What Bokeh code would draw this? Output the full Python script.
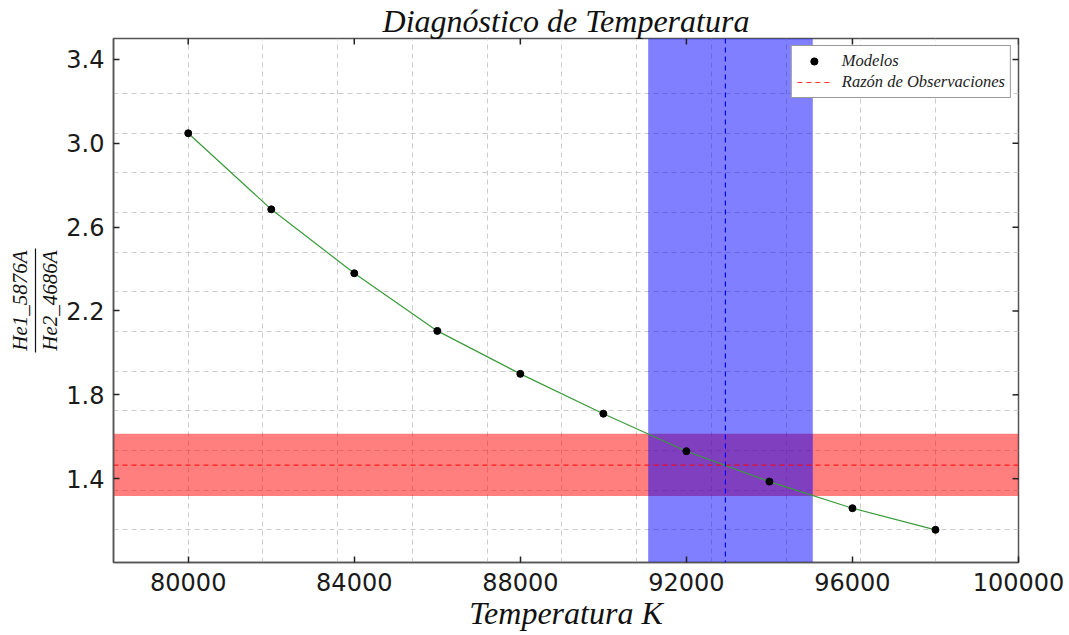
import numpy as np
from bokeh.plotting import figure
from bokeh.models import (Range1d, FixedTicker, LinearAxis, Span, Legend, LegendItem,
                          PrintfTickFormatter)
from bokeh.embed import file_html
from bokeh.resources import INLINE

# ---- data ----
temperatures = [80000, 82000, 84000, 86000, 88000, 90000, 92000, 94000, 96000, 98000]
ratios = [3.048, 2.685, 2.380, 2.105, 1.900, 1.710, 1.531, 1.386, 1.259, 1.156]
obs_ratio = 1.465
obs_ratio_low = 1.317
obs_ratio_high = 1.614
temp_estimate = 92940
temp_low = 91080
temp_high = 95045
x_tick_values = [80000, 84000, 88000, 92000, 96000, 100000]
y_tick_values = [1.4, 1.8, 2.2, 2.6, 3.0, 3.4]
x_limits = (78200, 100000)
y_limits = (1.0, 3.5)
title_text = "Diagnóstico de Temperatura"
x_label_text = "Temperatura K"
y_label_num = "He1_5876A"
y_label_den = "He2_4686A"
legend_models = "Modelos"
legend_obs = "Razón de Observaciones"

# grid positions (as in the reference: 10 equal steps over the model range)
xstep = (max(temperatures) - min(temperatures)) / 10
xgrid_ticks = [min(temperatures) + xstep * k for k in range(11)]
ystep = (max(ratios) - min(ratios)) / 10
ygrid_ticks = [min(ratios) + ystep * k for k in range(12)]

SERIF = "Liberation Serif"
SANS = "DejaVu Sans"
INK = "#1a1a1a"

p = figure(width=1066, height=634,
           x_range=Range1d(*x_limits), y_range=Range1d(*y_limits),
           output_backend="svg", toolbar_location=None,
           min_border_left=113, min_border_right=1066 - 1018,
           min_border_top=38, min_border_bottom=634 - 562,
           background_fill_color="white", border_fill_color="white")

p.outline_line_color = "#555555"
p.outline_line_width = 1.5

# title
p.title.text = title_text
p.title.align = "center"
p.title.text_font = SERIF
p.title.text_font_style = "italic"
p.title.text_font_size = "32px"
p.title.text_color = "#111111"
p.title.standoff = 0

# grids
p.xgrid.ticker = FixedTicker(ticks=xgrid_ticks)
p.ygrid.ticker = FixedTicker(ticks=ygrid_ticks)
for g in (p.xgrid, p.ygrid):
    g.grid_line_color = "#cccccc"
    g.grid_line_dash = "5 4"
    g.grid_line_width = 1

# bands
p.quad(left=x_limits[0], right=x_limits[1], bottom=obs_ratio_low, top=obs_ratio_high,
       fill_color="red", fill_alpha=0.5, line_color=None)
p.quad(left=temp_low, right=temp_high, bottom=y_limits[0], top=y_limits[1],
       fill_color="blue", fill_alpha=0.5, line_color=None)

# observation lines
obs_line = p.line(x=list(x_limits), y=[obs_ratio, obs_ratio], line_color="red",
                  line_dash="5 4", line_width=1.2, line_alpha=0.8)
p.add_layout(Span(location=temp_estimate, dimension="height", line_color="blue",
                  line_dash="5 4", line_width=1.2))

# model curve
p.line(temperatures, ratios, line_color="#3a9a3a", line_width=1.2)
dots = p.scatter(temperatures, ratios, size=7, fill_color="black", line_color="black")

# inward ticks on top and right frame edges (mirroring the main ticks)
p.scatter(x=x_tick_values, y=[y_limits[1]] * len(x_tick_values), marker="dash",
          angle=90, angle_units="deg", size=12, line_color="#222222", line_width=1.5)
p.scatter(x=[x_limits[1]] * len(y_tick_values), y=y_tick_values, marker="dash",
          size=12, line_color="#222222", line_width=1.5)

# axes
def style_axis(ax, ticks):
    ax.ticker = FixedTicker(ticks=ticks)
    ax.axis_line_color = "#555555"
    ax.axis_line_width = 1.5
    ax.major_tick_in = 6
    ax.major_tick_out = 0
    ax.major_tick_line_color = "#222222"
    ax.major_tick_line_width = 1.5
    ax.minor_tick_in = 0
    ax.minor_tick_out = 0
    ax.minor_tick_line_color = None
    ax.major_label_text_font = SANS
    ax.major_label_text_font_size = "24px"
    ax.major_label_text_color = INK

xa = p.xaxis[0]
style_axis(xa, x_tick_values)
xa.formatter = PrintfTickFormatter(format="%d")
xa.major_label_standoff = 10
xa.axis_label = x_label_text
xa.axis_label_text_font = SERIF
xa.axis_label_text_font_style = "italic"
xa.axis_label_text_font_size = "32px"
xa.axis_label_text_color = "#111111"
xa.axis_label_standoff = 1

ya = p.yaxis[0]
style_axis(ya, y_tick_values)
ya.formatter = PrintfTickFormatter(format="%.1f")
ya.major_label_standoff = 9
ya.axis_label = y_label_den
ya.axis_label_text_font = SERIF
ya.axis_label_text_font_style = "italic"
ya.axis_label_text_font_size = "21px"
ya.axis_label_text_color = "#111111"
ya.axis_label_standoff = 1

# fraction bar + numerator: a tick-less axis whose line is bounded around the centre
y_mid = (y_limits[0] + y_limits[1]) / 2
frac = LinearAxis(ticker=FixedTicker(ticks=[]), bounds=(y_mid - 0.25, y_mid + 0.25))
frac.axis_line_color = "#111111"
frac.axis_line_width = 1.2
frac.major_tick_in = 0
frac.major_tick_out = 0
frac.minor_tick_in = 0
frac.minor_tick_out = 0
frac.major_label_standoff = 0
frac.axis_label = y_label_num
frac.axis_label_text_font = SERIF
frac.axis_label_text_font_style = "italic"
frac.axis_label_text_font_size = "21px"
frac.axis_label_text_color = "#111111"
frac.axis_label_standoff = 4
p.add_layout(frac, "left")

# legend
legend = Legend(items=[LegendItem(label=legend_models, renderers=[dots]),
                       LegendItem(label=legend_obs, renderers=[obs_line])],
                location="top_right")
legend.margin = 7
legend.padding = 5
legend.spacing = 1
legend.glyph_width = 34
legend.glyph_height = 18
legend.label_height = 18
legend.label_standoff = 11
legend.label_text_font = SERIF
legend.label_text_font_style = "italic"
legend.label_text_font_size = "16.5px"
legend.label_text_color = "#222222"
legend.border_line_color = "#333333"
legend.border_line_width = 1.5
legend.background_fill_color = "white"
legend.background_fill_alpha = 1.0
p.add_layout(legend)

open("out.html", "w").write(file_html(p, INLINE))
